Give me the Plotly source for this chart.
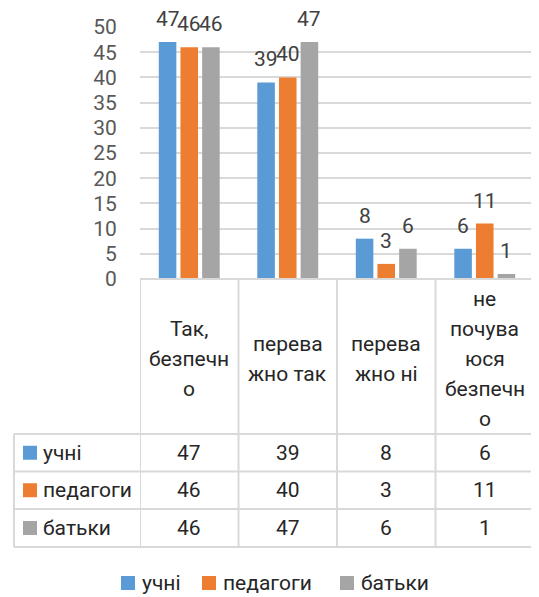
import plotly.graph_objects as go

categories = ["Так, безпечно", "переважно так", "переважно ні", "не почуваюся безпечно"]
category_lines = [
    ["Так,", "безпечн", "о"],
    ["перева", "жно так"],
    ["перева", "жно ні"],
    ["не", "почува", "юся", "безпечн", "о"],
]
series_names = ["учні", "педагоги", "батьки"]
uchni = [47, 39, 8, 6]
pedagogy = [46, 40, 3, 11]
batky = [46, 47, 6, 1]
series_values = [uchni, pedagogy, batky]
colors = ["#5B9BD5", "#ED7D31", "#A5A5A5"]
y_ticks = list(range(0, 55, 5))

# page body has an 8px margin, so the figure is drawn 8px in from the window edge
OFF = 8
W, H = 539 - OFF, 597 - OFF
L, R, T, B = 140 - OFF, 5, 27 - OFF, 318
PW = W - L - R
PH = H - T - B
FONT = "Roboto, Arial, sans-serif"
FS = 21
GRID = "#d9d9d9"
TXT = "#262626"


def px_x(px):
    return (px - OFF - L) / PW


def px_y(py):
    return (H - B - (py - OFF)) / PH


fig = go.Figure()
for name, vals, col in zip(series_names, series_values, colors):
    fig.add_trace(go.Bar(x=categories, y=vals, name=name, marker_color=col,
                         marker_line_width=0, showlegend=False))

annotations = []
slot = 21.7
for i, vals in enumerate(series_values):
    for c, v in zip(categories, vals):
        annotations.append(dict(x=c, y=v, xref="x", yref="y", text=str(v), showarrow=False,
                                xshift=(i - 1) * slot, yanchor="bottom", yshift=9,
                                font=dict(family=FONT, size=FS, color="#404040")))

# category labels in the header row
center_y = 359
spacing = 30
for c, lines in zip(categories, category_lines):
    n = len(lines)
    for k, ln in enumerate(lines):
        yy = center_y + (k - (n - 1) / 2) * spacing
        annotations.append(dict(x=c, y=px_y(yy), xref="x", yref="paper", text=ln,
                                showarrow=False, yanchor="middle",
                                font=dict(family=FONT, size=FS, color=TXT)))

# table rows
row_lines = [434, 471.5, 509, 547]
row_centers = [(row_lines[i] + row_lines[i + 1]) / 2 for i in range(3)]
shapes = []
for i, (name, vals, col) in enumerate(zip(series_names, series_values, colors)):
    yc = row_centers[i]
    shapes.append(dict(type="rect", xref="paper", yref="paper",
                       x0=px_x(23), x1=px_x(37), y0=px_y(yc + 7), y1=px_y(yc - 7),
                       fillcolor=col, line_width=0))
    annotations.append(dict(x=px_x(41), y=px_y(yc), xref="paper", yref="paper", text=name,
                            showarrow=False, xanchor="left", yanchor="middle",
                            font=dict(family=FONT, size=FS, color=TXT)))
    for c, v in zip(categories, vals):
        annotations.append(dict(x=c, y=px_y(yc), xref="x", yref="paper", text=str(v),
                                showarrow=False, yanchor="middle",
                                font=dict(family=FONT, size=FS, color=TXT)))

# legend (drawn manually to match spacing)
legend_y = 583
legend_x = [121, 202, 340]
for name, col, lx in zip(series_names, colors, legend_x):
    shapes.append(dict(type="rect", xref="paper", yref="paper",
                       x0=px_x(lx), x1=px_x(lx + 14), y0=px_y(legend_y + 7), y1=px_y(legend_y - 7),
                       fillcolor=col, line_width=0))
    annotations.append(dict(x=px_x(lx + 19), y=px_y(legend_y), xref="paper", yref="paper",
                            text=name, showarrow=False, xanchor="left", yanchor="middle",
                            font=dict(family=FONT, size=FS, color=TXT)))

# table grid lines
for ry in row_lines:
    shapes.append(dict(type="line", xref="paper", yref="paper", x0=px_x(14), x1=1,
                       y0=px_y(ry), y1=px_y(ry), line=dict(color=GRID, width=2)))
shapes.append(dict(type="line", xref="paper", yref="paper", x0=px_x(14), x1=px_x(14),
                   y0=px_y(434), y1=px_y(547), line=dict(color=GRID, width=2)))
for k in range(len(categories) + 1):
    shapes.append(dict(type="line", xref="x", yref="paper", x0=k - 0.5, x1=k - 0.5,
                       y0=0, y1=px_y(547), line=dict(color=GRID, width=2)))
shapes.append(dict(type="line", xref="paper", yref="paper", x0=0, x1=1, y0=0, y1=0,
                   line=dict(color=GRID, width=2)))

fig.update_layout(
    width=W, height=H,
    margin=dict(l=L, r=R, t=T, b=B, autoexpand=False),
    paper_bgcolor="white", plot_bgcolor="white",
    barmode="group", bargap=0.34, bargroupgap=0.19,
    xaxis=dict(showticklabels=False, showgrid=False, zeroline=False, showline=False,
               range=[-0.5, 3.5], automargin=False),
    yaxis=dict(range=[0, 50], tickvals=y_ticks, showgrid=True, gridcolor=GRID, gridwidth=1.5,
               zeroline=False, showline=False, ticks="outside", ticklen=18,
               tickcolor="rgba(0,0,0,0)", automargin=False,
               tickfont=dict(family=FONT, size=FS, color="#595959")),
    showlegend=False,
    annotations=annotations,
    shapes=shapes,
)

fig.write_html("out.html")
